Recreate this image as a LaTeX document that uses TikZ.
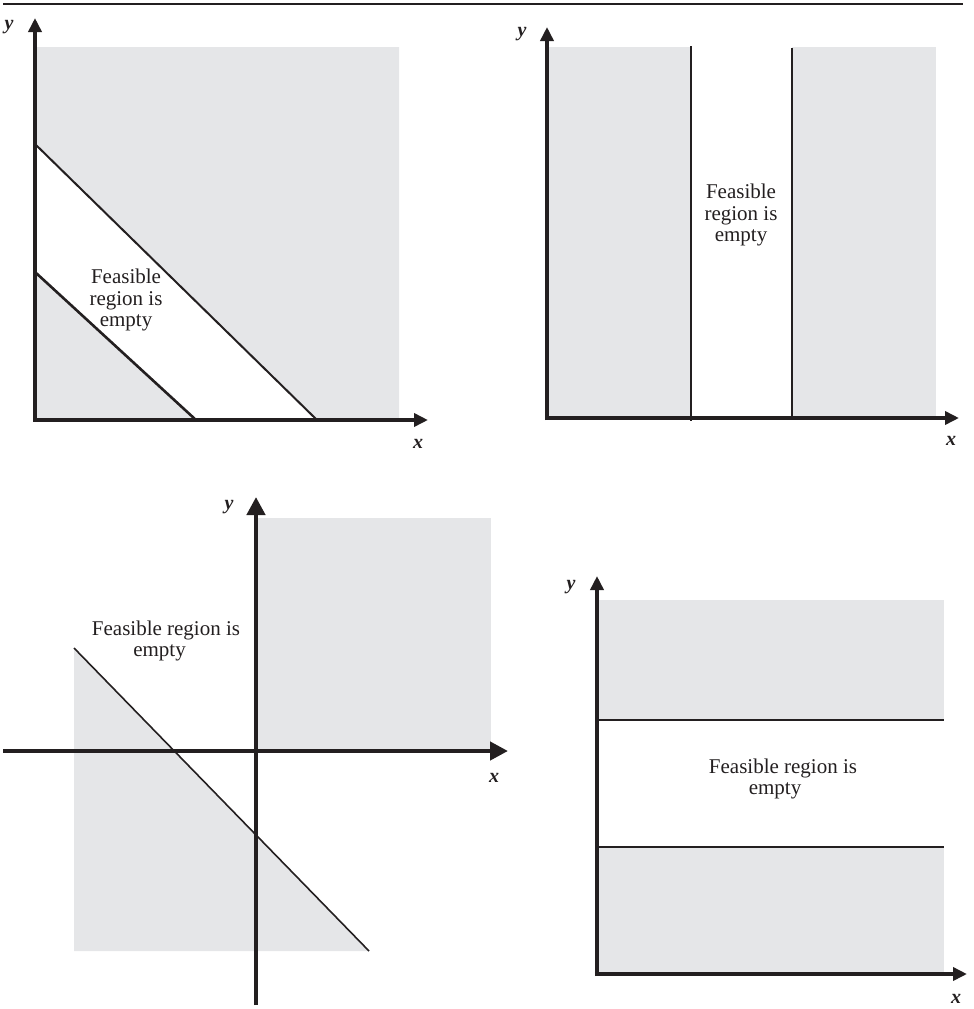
\documentclass[tikz,border=0pt]{standalone}
\usepackage{fontspec}
\setmainfont{Liberation Serif}
\usetikzlibrary{arrows.meta}
\definecolor{ink}{RGB}{35,31,32}
\definecolor{shade}{RGB}{229,230,232}
\begin{document}
\begin{tikzpicture}[x=1pt,y=-1pt,
  axis/.style={draw=ink,line width=4pt,-{Triangle[length=14pt,width=13pt]}},
  bigaxis/.style={draw=ink,line width=4.3pt,-{Triangle[length=18pt,width=18pt]}},
  bound/.style={draw=ink,line width=2pt},
  region/.style={fill=shade},
  lbl/.style={text=ink,font=\fontsize{21}{21.3}\selectfont,align=center,inner sep=0pt},
  axlbl/.style={text=ink,font=\fontsize{20}{20}\selectfont\bfseries\itshape,inner sep=0pt}]
\useasboundingbox (0,0) rectangle (974,1009);
% top rule
\coordinate (r1) at (3,3.7);
\coordinate (r2) at (963,3.7);
\draw[ink,line width=2pt] (r1) -- (r2);

% ---------- panel 1 ----------
\fill[region] (35,47) -- (399,47) -- (399,420) -- (317,420) -- (35,144) -- cycle;
\fill[region] (35,272) -- (196,420) -- (35,420) -- cycle;
\coordinate (A1o) at (35,420);
\coordinate (A1x) at (428,420);
\coordinate (A1y) at (35,18);
\coordinate (L1a) at (35,272);
\coordinate (L1b) at (196,420);
\coordinate (U1a) at (35,144);
\coordinate (U1b) at (317,420);
\draw[bound,line width=2.6pt] (L1a) -- (L1b);
\draw[bound] (U1a) -- (U1b);
\draw[axis,line width=3.7pt] ([xshift=-1.85pt]A1o) -- (A1x);
\draw[axis,line width=3.7pt] ([yshift=-1.85pt]A1o) -- (A1y);
\node[lbl] (t1) at (126,300) {Feasible\\region is\\empty};
\node[axlbl] (y1) at (9,27) {y};
\node[axlbl] (x1) at (418,444) {x};

% ---------- panel 2 ----------
\fill[region] (547,47) rectangle (691,418);
\fill[region] (792,47) rectangle (936,418);
\coordinate (V2a) at (691,46);
\coordinate (V2b) at (691,421);
\coordinate (W2a) at (792,48);
\coordinate (W2b) at (792,418);
\draw[bound] (V2a) -- (V2b);
\draw[bound] (W2a) -- (W2b);
\coordinate (A2o) at (547,418);
\coordinate (A2x) at (959,418);
\coordinate (A2y) at (547,27);
\draw[axis] ([xshift=-2pt]A2o) -- (A2x);
\draw[axis] ([yshift=-2pt]A2o) -- (A2y);
\node[lbl] (t2) at (741,215) {Feasible\\region is\\empty};
\node[axlbl] (y2) at (522,34) {y};
\node[axlbl] (x2) at (951,441) {x};

% ---------- panel 3 ----------
\fill[region] (256,518) rectangle (491,751);
\fill[region] (74,648) -- (369,951) -- (74,951) -- cycle;
\coordinate (D3a) at (74,648);
\coordinate (D3b) at (369,951);
\draw[bound,line width=1.6pt] (D3a) -- (D3b);
\coordinate (A3l) at (3,751);
\coordinate (A3x) at (508,751);
\coordinate (A3b) at (256,1005);
\coordinate (A3y) at (256,497);
\draw[bigaxis] (A3l) -- (A3x);
\draw[bigaxis] (A3b) -- (A3y);
\node[lbl] (t3) at (166,641) {Feasible region is\\empty\hspace*{13pt}};
\node[axlbl] (y3) at (229,507) {y};
\node[axlbl] (x3) at (494,778) {x};

% ---------- panel 4 ----------
\fill[region] (597,600) rectangle (944,720);
\fill[region] (597,847) rectangle (944,974);
\coordinate (H4a) at (597,720);
\coordinate (H4b) at (944,720);
\coordinate (G4a) at (597,847);
\coordinate (G4b) at (944,847);
\draw[bound,line width=2.3pt] (H4a) -- (H4b);
\draw[bound,line width=2.3pt] (G4a) -- (G4b);
\coordinate (A4o) at (597,974);
\coordinate (A4x) at (967,974);
\coordinate (A4y) at (597,576);
\draw[axis,line width=4.3pt] ([xshift=-2.15pt]A4o) -- (A4x);
\draw[axis,line width=4.3pt] ([yshift=-2.15pt]A4o) -- (A4y);
\node[lbl] (t4) at (783,779) {Feasible region is\\empty\hspace*{16pt}};
\node[axlbl] (y4) at (571,587) {y};
\node[axlbl] (x4) at (956,999) {x};
\end{tikzpicture}
\end{document}
